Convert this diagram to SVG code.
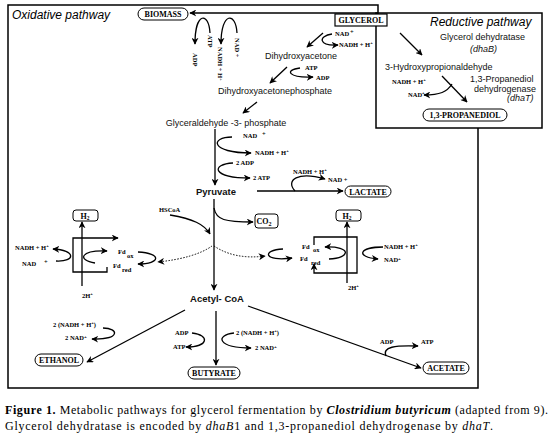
<svg xmlns="http://www.w3.org/2000/svg" width="551" height="435" viewBox="0 0 551 435">
<defs>
<marker id="ah" viewBox="0 0 10 10" refX="9" refY="5" markerWidth="7" markerHeight="7" markerUnits="userSpaceOnUse" orient="auto"><path d="M0,0 L10,5 L0,10 L3,5 z" fill="#000"/></marker>
<style>
.ln{fill:none;stroke:#000;stroke-width:1.3}
.a{marker-end:url(#ah)}
.dot{stroke-dasharray:1.5 1.5;stroke-width:1}
.s{font-family:"Liberation Sans",Arial,sans-serif;font-size:9px;fill:#111}
.sb{font-family:"Liberation Sans",Arial,sans-serif;font-size:9.5px;font-weight:bold;fill:#111}
.it{font-family:"Liberation Sans",Arial,sans-serif;font-style:italic;font-size:12px;fill:#000}
.b{font-family:"Liberation Serif","Times New Roman",serif;font-weight:bold;font-size:6.5px;fill:#000}
.p{font-family:"Liberation Serif","Times New Roman",serif;font-weight:bold;font-size:8px;fill:#000;text-anchor:middle}
.pill{fill:#fff;stroke:#000;stroke-width:1}
.frame{fill:none;stroke:#000;stroke-width:1.5}
.cap{font-family:"Liberation Serif","Times New Roman",serif;font-size:12px;fill:#000}
</style>
</defs>
<rect width="551" height="435" fill="#fff"/>

<g id="frames">
<path class="frame" d="M378,15 V5 H8 V388 H478 V128"/>
<rect class="frame" x="376" y="13" width="166" height="115"/>
</g>

<g id="titles">
<text class="it" x="12" y="19">Oxidative pathway</text>
<text class="it" x="430" y="26">Reductive pathway</text>
</g>

<g id="connectors">
<path class="ln a" d="M378,13 H190"/>
<path class="ln a" d="M210,33 C209,12 195,11 195,44"/>
<path class="ln a" d="M237,33 C236,12 221,11 221,44"/>
<path class="ln a" d="M323,33 L307,47"/>
<path class="ln a" d="M332,34 C318,36 318,46 338,45"/>
<path class="ln a" d="M287,67 L270,83"/>
<path class="ln a" d="M300,68 C284,70 288,78 313,77"/>
<path class="ln a" d="M257,102 L243,113"/>
<path class="ln a" d="M215,129 V185"/>
<path class="ln a" d="M232,137 C210,137 210,153 251,153"/>
<path class="ln a" d="M233,163 C211,164 211,178 250,178"/>
<path class="ln a" d="M257,191 H343"/>
<path class="ln a" d="M295,191 C285,180 298,171 325,179"/>
<path class="ln a" d="M214,199 V290"/>
<path class="ln a" d="M170,215 C193,219 204,224 210,234"/>
<path class="ln a" d="M214,208 C216,220 225,222 253,222"/>
<path class="ln a dot" d="M212,246 Q195,258 158,262"/>
<path class="ln a dot" d="M214,246 Q235,260 265,256"/>
<path class="ln a" d="M283,249 C261,250 264,262 292,258"/>
<path class="ln a" d="M314,245 V237 H357 V273 H314 V264"/>
<path class="ln a" d="M347,283 V222"/>
<path class="ln a" d="M329,259 C351,258 352,246 325,247"/>
<path class="ln a" d="M383,247 C359,247 355,257 378,259"/>
<path class="ln a" d="M107,267 V272 H73 V238 H118"/>
<path class="ln a" d="M82,286 V222"/>
<path class="ln a" d="M95,263 C77,260 80,250 107,251"/>
<path class="ln a" d="M138,252 C162,253 161,264 138,264"/>
<path class="ln a" d="M56,261 C76,262 76,250 53,249"/>
<path class="ln a" d="M185,310 L87,362"/>
<path class="ln a" d="M103,328 C119,328 121,340 92,339"/>
<path class="ln a" d="M216,311 V365"/>
<path class="ln a" d="M192,333 C210,335 209,347 186,347"/>
<path class="ln a" d="M234,333 C215,335 217,348 251,348"/>
<path class="ln a" d="M248,306 L421,368"/>
<path class="ln a" d="M386,356 C382,347 395,345 418,346"/>
<path class="ln a" d="M400,33 L422,55"/>
<path class="ln a" d="M442,76 L467,102"/>
<path class="ln a" d="M452,84 C447,92 440,95 424,95"/>
</g>

<g id="biomass"><rect class="pill" x="138" y="8" width="50" height="12" rx="6"/><text class="p" x="163" y="17">BIOMASS</text></g>
<g id="glycerol"><rect fill="#fff" stroke="#000" stroke-width="1.2" x="335" y="14" width="52" height="12"/><text class="p" x="361" y="23">GLYCEROL</text></g>

<g id="cofactors-biomass">
<text class="b" transform="translate(208,35) rotate(90)">ATP</text>
<text class="b" transform="translate(193,53) rotate(90)">ADP</text>
<text class="b" transform="translate(218,47) rotate(90)">NADH + H<tspan dy="-2" font-size="4.5">+</tspan></text>
<text class="b" transform="translate(235,38) rotate(90)">NAD  +</text>
</g>

<g id="dha">
<text class="b" x="335" y="36">NAD</text><text class="b" x="350" y="34">+</text>
<text class="b" x="339" y="47">NADH + H<tspan dy="-3" font-size="4.5">+</tspan></text>
<text class="s" x="301" y="59" text-anchor="middle">Dihydroxyacetone</text>
</g>
<g id="dhap">
<text class="b" x="305" y="70">ATP</text>
<text class="b" x="316" y="80">ADP</text>
<text class="s" x="275" y="94" text-anchor="middle">Dihydroxyacetonephosphate</text>
</g>
<g id="g3p">
<text class="s" x="226" y="126" text-anchor="middle">Glyceraldehyde -3- phosphate</text>
<text class="b" x="243" y="138">NAD</text><text class="b" x="262" y="136">+</text>
<text class="b" x="255" y="155">NADH + H<tspan dy="-3" font-size="4.5">+</tspan></text>
<text class="b" x="236" y="165">2  ADP</text>
<text class="b" x="253" y="180">2  ATP</text>
</g>
<g id="pyruvate">
<text class="sb" x="216" y="195" text-anchor="middle">Pyruvate</text>
</g>
<g id="lactate">
<rect class="pill" x="345" y="186" width="46" height="11" rx="5.5"/><text class="p" x="368" y="194.5">LACTATE</text>
<text class="b" x="293" y="174">NADH + H<tspan dy="-3" font-size="4.5">+</tspan></text>
<text class="b" x="328" y="182">NAD +</text>
</g>
<g id="hscoa"><text class="b" x="159" y="212">HSCoA</text></g>
<g id="co2"><rect class="pill" x="255" y="214" width="23" height="14" rx="3"/><text class="p" x="264" y="224">CO<tspan dy="2" font-size="6">2</tspan></text></g>

<g id="h2-right"><rect class="pill" x="336" y="210" width="25" height="11" rx="3"/><text class="p" x="347" y="218.5">H<tspan dy="1.5" font-size="5.5">2</tspan></text></g>
<g id="fd-right">
<text class="b" x="302" y="249">Fd</text><text class="b" x="313" y="252" font-size="7.5">ox</text>
<text class="b" x="300" y="261">Fd</text><text class="b" x="311" y="265" font-size="7.5">red</text>
<text class="b" x="384" y="249">NADH + H<tspan dy="-3" font-size="4.5">+</tspan></text>
<text class="b" x="384" y="262">NAD<tspan dy="-2" font-size="5">+</tspan></text>
<text class="b" x="348" y="290">2H<tspan dy="-3" font-size="4.5">+</tspan></text>
</g>

<g id="h2-left"><rect class="pill" x="73" y="210" width="25" height="11" rx="3"/><text class="p" x="85" y="218.5">H<tspan dy="1.5" font-size="5.5">2</tspan></text></g>
<g id="fd-left">
<text class="b" x="118" y="254">Fd</text><text class="b" x="127" y="258" font-size="7.5">ox</text>
<text class="b" x="113" y="268">Fd</text><text class="b" x="122" y="272" font-size="7.5">red</text>
<text class="b" x="15" y="250">NADH + H<tspan dy="-3" font-size="4.5">+</tspan></text>
<text class="b" x="22" y="266">NAD</text><text class="b" x="44" y="264">+</text>
<text class="b" x="82" y="298">2H<tspan dy="-3" font-size="4.5">+</tspan></text>
</g>

<g id="acetylcoa"><text class="sb" x="217" y="302" text-anchor="middle">Acetyl- CoA</text></g>

<g id="ethanol">
<rect class="pill" x="35" y="354" width="48" height="12" rx="6"/><text class="p" x="59" y="363">ETHANOL</text>
<text class="b" x="53" y="327">2 (NADH + H<tspan dy="-3" font-size="4.5">+</tspan><tspan dy="3">)</tspan></text>
<text class="b" x="65" y="340">2 NAD<tspan dy="-2" font-size="5">+</tspan></text>
</g>
<g id="butyrate">
<rect class="pill" x="188" y="367" width="52" height="12" rx="6"/><text class="p" x="214" y="376">BUTYRATE</text>
<text class="b" x="175" y="335">ADP</text>
<text class="b" x="173" y="349">ATP</text>
<text class="b" x="236" y="335">2 (NADH + H<tspan dy="-3" font-size="4.5">+</tspan><tspan dy="3">)</tspan></text>
<text class="b" x="255" y="350">2 NAD<tspan dy="-2" font-size="5">+</tspan></text>
</g>
<g id="acetate">
<rect class="pill" x="423" y="362" width="46" height="12" rx="6"/><text class="p" x="446" y="371">ACETATE</text>
<text class="b" x="380" y="344">ADP</text>
<text class="b" x="421" y="344">ATP</text>
</g>

<g id="reductive">
<text class="s" x="440" y="40" font-size="8">Glycerol dehydratase</text>
<text class="s" x="470" y="52" font-size="8" font-style="italic">(dhaB)</text>
<text class="s" x="385" y="70">3-Hydroxypropionaldehyde</text>
<text class="b" x="392" y="84">NADH + H<tspan dy="-3" font-size="4.5">+</tspan></text>
<text class="b" x="408" y="97">NAD<tspan dy="-3" font-size="4.5">+</tspan></text>
<text class="s" x="470" y="82" font-size="7.5">1,3-Propanediol</text>
<text class="s" x="474" y="91.5" font-size="7.5">dehydrogenase</text>
<text class="s" x="507" y="101" font-size="7.5" font-style="italic">(dhaT)</text>
</g>
<g id="propanediol"><rect class="pill" x="423" y="109" width="84" height="12" rx="6"/><text class="p" x="465" y="118">1,3-PROPANEDIOL</text></g>

<g id="caption">
<text class="cap" x="5" y="414" textLength="543" lengthAdjust="spacing"><tspan font-weight="bold">Figure 1.</tspan> Metabolic pathways for glycerol fermentation by <tspan font-weight="bold" font-style="italic">Clostridium butyricum</tspan> (adapted from 9).</text>
<text class="cap" x="5" y="430" textLength="488" lengthAdjust="spacing">Glycerol dehydratase is encoded by <tspan font-style="italic">dhaB</tspan>1 and 1,3-propanediol dehydrogenase by <tspan font-style="italic">dhaT</tspan>.</text>
</g>
</svg>
